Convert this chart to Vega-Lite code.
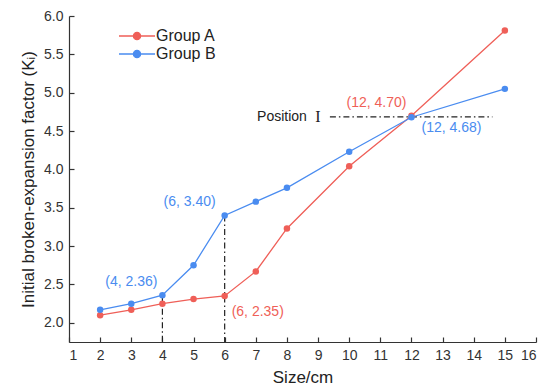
{
  "$schema": "https://vega.github.io/schema/vega-lite/v6.json",
  "autosize": "none",
  "width": 467,
  "height": 326,
  "padding": {"left": 69, "top": 16, "right": 13, "bottom": 43},
  "background": "white",
  "config": {
    "font": "Liberation Sans",
    "view": {"stroke": null},
    "axis": {
      "grid": false,
      "domainColor": "#333333",
      "tickColor": "#333333",
      "labelColor": "#333333",
      "titleColor": "#222222",
      "labelFont": "Liberation Sans",
      "titleFont": "Liberation Sans",
      "labelFontSize": 14,
      "titleFontSize": 17,
      "titleFontWeight": "normal",
      "tickSize": -5,
      "labelPadding": 11,
      "domainWidth": 1.2,
      "tickWidth": 1.2
    }
  },
  "datasets": {
    "series": [
      {"size": 2, "k": 2.10, "group": "Group A"},
      {"size": 3, "k": 2.17, "group": "Group A"},
      {"size": 4, "k": 2.25, "group": "Group A"},
      {"size": 5, "k": 2.31, "group": "Group A"},
      {"size": 6, "k": 2.35, "group": "Group A"},
      {"size": 7, "k": 2.67, "group": "Group A"},
      {"size": 8, "k": 3.23, "group": "Group A"},
      {"size": 10, "k": 4.04, "group": "Group A"},
      {"size": 12, "k": 4.70, "group": "Group A"},
      {"size": 15, "k": 5.81, "group": "Group A"},
      {"size": 2, "k": 2.17, "group": "Group B"},
      {"size": 3, "k": 2.25, "group": "Group B"},
      {"size": 4, "k": 2.36, "group": "Group B"},
      {"size": 5, "k": 2.75, "group": "Group B"},
      {"size": 6, "k": 3.40, "group": "Group B"},
      {"size": 7, "k": 3.58, "group": "Group B"},
      {"size": 8, "k": 3.76, "group": "Group B"},
      {"size": 10, "k": 4.23, "group": "Group B"},
      {"size": 12, "k": 4.68, "group": "Group B"},
      {"size": 15, "k": 5.05, "group": "Group B"}
    ],
    "vrules": [
      {"size": 4, "k": 2.36, "k2": 1.75},
      {"size": 6, "k": 3.40, "k2": 1.75}
    ],
    "hrule": [
      {"size": 9.38, "size2": 14.6, "k": 4.685}
    ],
    "labels": [
      {"size": 12, "k": 4.70, "text": "(12, 4.70)", "group": "Group A", "pos": "ul"},
      {"size": 12, "k": 4.68, "text": "(12, 4.68)", "group": "Group B", "pos": "lr"},
      {"size": 6, "k": 3.40, "text": "(6, 3.40)", "group": "Group B", "pos": "ul"},
      {"size": 4, "k": 2.36, "text": "(4, 2.36)", "group": "Group B", "pos": "ul4"},
      {"size": 6, "k": 2.35, "text": "(6, 2.35)", "group": "Group A", "pos": "lrl"}
    ]
  },
  "encoding": {
    "x": {
      "field": "size", "type": "quantitative",
      "scale": {"domain": [1, 16], "nice": false, "zero": false},
      "axis": {"values": [1,2,3,4,5,6,7,8,9,10,11,12,13,14,15,16], "title": "Size/cm", "titlePadding": 7}
    },
    "y": {
      "field": "k", "type": "quantitative",
      "scale": {"domain": [1.75, 6], "nice": false, "zero": false},
      "axis": {"values": [2, 2.5, 3, 3.5, 4, 4.5, 5, 5.5, 6], "format": ".1f", "title": "Initial broken-expansion factor (Kᵢ)", "titlePadding": 6}
    }
  },
  "layer": [
    {
      "data": {"name": "vrules"},
      "mark": {"type": "rule", "color": "#222222", "strokeWidth": 1.2, "strokeDash": [6, 3, 1.5, 3]},
      "encoding": {"y2": {"field": "k2"}}
    },
    {
      "data": {"name": "hrule"},
      "mark": {"type": "rule", "color": "#222222", "strokeWidth": 1.2, "strokeDash": [6, 3, 1.5, 3]},
      "encoding": {"x2": {"field": "size2"}}
    },
    {
      "data": {"name": "hrule"},
      "mark": {"type": "text", "text": "Position", "align": "right", "baseline": "middle", "dx": -23, "fontSize": 14, "color": "#222222"}
    },
    {
      "data": {"name": "hrule"},
      "mark": {"type": "text", "text": "I", "align": "center", "baseline": "middle", "dx": -12, "fontSize": 16, "font": "Liberation Serif", "color": "#222222"}
    },
    {
      "data": {"name": "series"},
      "mark": {"type": "line", "strokeWidth": 1.3},
      "encoding": {
        "color": {
          "field": "group", "type": "nominal",
          "scale": {"domain": ["Group A", "Group B"], "range": ["#ef5f58", "#4a8cf0"]},
          "legend": {
            "title": null,
            "orient": "none",
            "legendX": 60,
            "legendY": 12,
            "symbolType": "M-3,0H-0.62M0.62,0H3M0.6,0A0.6,0.6 0 1,1 -0.6,0A0.6,0.6 0 1,1 0.6,0Z",
            "symbolSize": 144,
            "symbolStrokeWidth": 1.3,
            "labelFontSize": 16,
            "labelColor": "#222222",
            "labelOffset": 11,
            "rowPadding": 2,
            "encode": {"symbols": {"update": {"fill": {"scale": "color", "field": "value"}}}}
          }
        }
      }
    },
    {
      "data": {"name": "series"},
      "mark": {"type": "circle", "size": 42, "opacity": 1},
      "encoding": {
        "color": {"field": "group", "type": "nominal", "legend": null}
      }
    },
    {
      "data": {"name": "labels"},
      "transform": [{"filter": "datum.pos === 'ul'"}],
      "mark": {"type": "text", "align": "center", "baseline": "middle", "dx": -35, "dy": -13, "fontSize": 14},
      "encoding": {"text": {"field": "text"}, "color": {"field": "group", "type": "nominal", "legend": null}}
    },
    {
      "data": {"name": "labels"},
      "transform": [{"filter": "datum.pos === 'ul4'"}],
      "mark": {"type": "text", "align": "center", "baseline": "middle", "dx": -31, "dy": -13, "fontSize": 14},
      "encoding": {"text": {"field": "text"}, "color": {"field": "group", "type": "nominal", "legend": null}}
    },
    {
      "data": {"name": "labels"},
      "transform": [{"filter": "datum.pos === 'lr'"}],
      "mark": {"type": "text", "align": "center", "baseline": "middle", "dx": 40, "dy": 11, "fontSize": 14},
      "encoding": {"text": {"field": "text"}, "color": {"field": "group", "type": "nominal", "legend": null}}
    },
    {
      "data": {"name": "labels"},
      "transform": [{"filter": "datum.pos === 'lrl'"}],
      "mark": {"type": "text", "align": "left", "baseline": "middle", "dx": 7, "dy": 16, "fontSize": 14},
      "encoding": {"text": {"field": "text"}, "color": {"field": "group", "type": "nominal", "legend": null}}
    }
  ]
}
